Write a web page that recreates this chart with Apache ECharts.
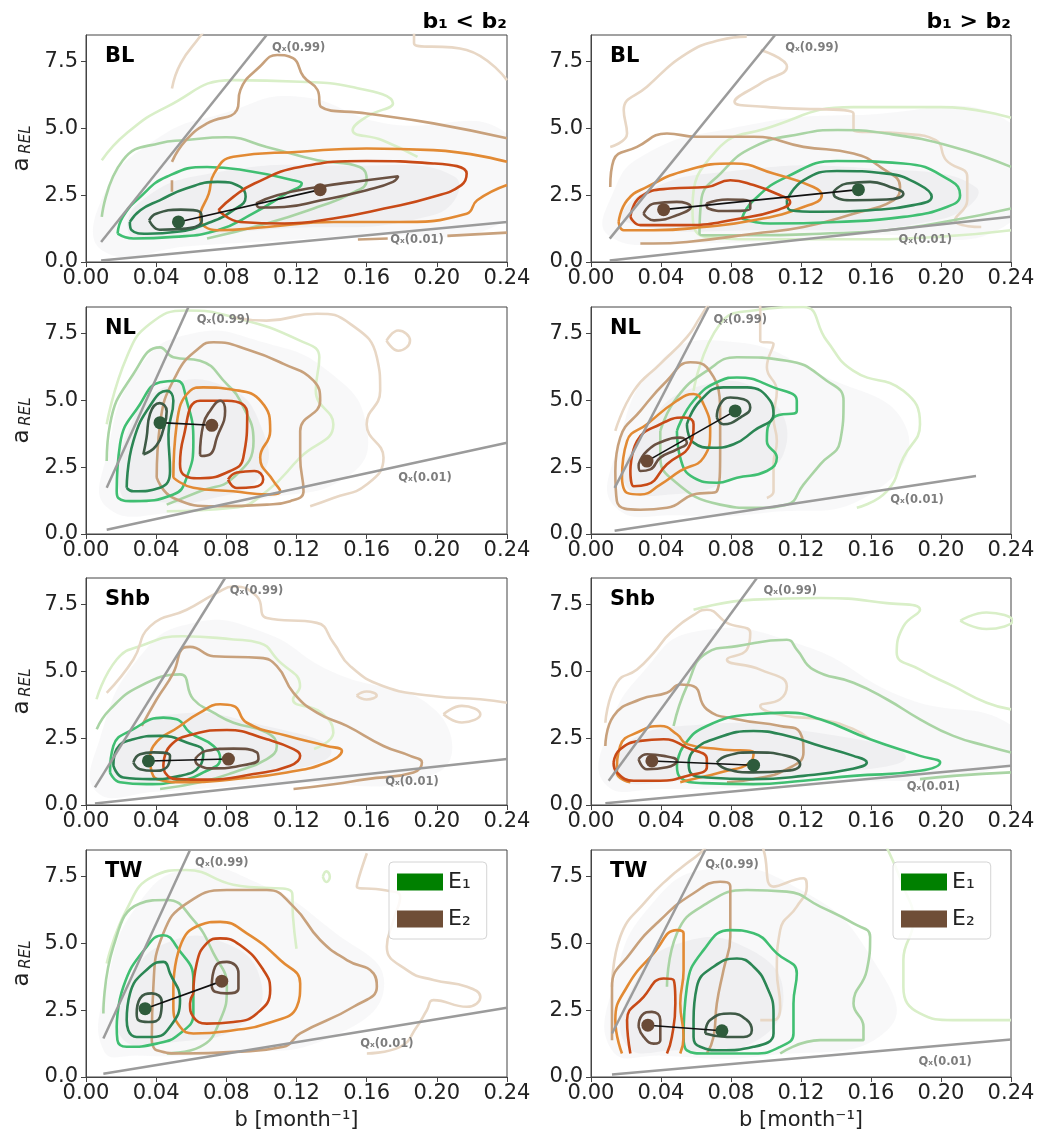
<!DOCTYPE html>
<html>
<head>
<meta charset="utf-8">
<script src="https://cdn.jsdelivr.net/npm/echarts@6/dist/echarts.min.js"></script>
<style>
  html, body { margin: 0; padding: 0; background: #fff; }
  #chart { width: 1043px; height: 1140px; }
</style>
</head>
<body>
<div id="chart"></div>
<script>
const FONT = 'DejaVu Sans';

// ticks and text
const xTicks = [0, 0.04, 0.08, 0.12, 0.16, 0.20, 0.24];
const yTicks = [0, 2.5, 5, 7.5];
const headers = ['b₁ < b₂', 'b₁ > b₂'];
const legendNames = ['E₁', 'E₂'];
const qLabels = ['Qₓ(0.99)', 'Qₓ(0.01)'];

// contour colours, inner level (0) -> outer level (4)
const e1Colors = ['#3e5a46', '#2b8654', '#40bf72', '#a9d4a4', '#d9efc8'];
const e2Colors = ['#6a5142', '#c84a17', '#e28a34', '#c8a17c', '#e8d7c5'];

// ---------------- BL, b1 < b2 ----------------
const BL_L_E1 = [
  [0, [[0.036,1.56],[0.040,1.81],[0.054,1.96],[0.065,1.88],[0.066,1.56],[0.057,1.25],[0.042,1.21],[0.036,1.56]]],
  [1, [[0.025,1.5],[0.031,1.94],[0.042,2.31],[0.057,2.75],[0.075,3.0],[0.088,2.81],[0.091,2.44],[0.084,1.94],[0.069,1.44],[0.052,1.13],[0.035,1.06],[0.026,1.19],[0.025,1.5]]],
  [2, [[0.018,1.06],[0.021,1.69],[0.031,2.44],[0.046,3.19],[0.069,3.56],[0.095,3.38],[0.118,3.06],[0.123,2.94],[0.114,2.56],[0.095,1.81],[0.075,1.19],[0.050,0.94],[0.027,0.88],[0.018,1.06]]],
  [3, [[0.069,0.88],[0.103,1.44],[0.132,2.06],[0.151,2.56],[0.160,3.06],[0.156,3.56],[0.132,3.81],[0.103,4.31],[0.080,4.67],[0.056,4.56],[0.042,4.45],[0.021,3.81],[0.009,1.69]]],
  [4, [[0.009,3.81],[0.023,4.81],[0.046,5.81],[0.084,6.81],[0.122,6.75],[0.151,6.56],[0.175,5.94],[0.160,5.44],[0.152,4.94],[0.169,4.56],[0.189,3.94]]]
];
const BL_L_E2 = [
  [0, [[0.097,2.19],[0.109,2.5],[0.132,2.81],[0.160,3.06],[0.178,3.21],[0.175,3.0],[0.160,2.69],[0.134,2.31],[0.113,2.06],[0.099,2.04],[0.097,2.19]]],
  [1, [[0.0755,1.94],[0.084,2.44],[0.096,2.94],[0.122,3.56],[0.160,3.78],[0.198,3.69],[0.217,3.31],[0.214,2.88],[0.198,2.44],[0.170,2.0],[0.141,1.63],[0.113,1.44],[0.088,1.5],[0.0755,1.94]]],
  [2, [[0.24,3.75],[0.198,4.19],[0.160,4.25],[0.122,4.13],[0.084,3.94],[0.073,3.31],[0.070,2.56],[0.065,1.69],[0.075,1.19],[0.103,1.31],[0.141,1.5],[0.179,1.5],[0.217,1.81],[0.223,2.31],[0.24,2.88]]],
  [3, [[0.049,3.75],[0.057,4.56],[0.069,5.19],[0.086,5.69],[0.088,6.44],[0.099,7.31],[0.109,7.75],[0.118,7.63],[0.124,6.94],[0.132,6.44],[0.134,5.81],[0.160,5.56],[0.198,5.19],[0.24,4.63]]],
  [3, [[0.049,3.06],[0.049,2.63]]],
  [3, [[0.155,0.84],[0.172,0.88]]],
  [3, [[0.206,0.98],[0.24,1.1]]],
  [4, [[0.049,6.5],[0.054,7.44],[0.065,8.44],[0.068,8.7]]],
  [4, [[0.187,8.7],[0.187,8.19],[0.217,7.94],[0.24,6.81]]]
];
const BL_L_MEAN = [[0.0527,1.5],[0.1335,2.71]];
const BL_L_Q99 = [[0.0086,0.75],[0.103,8.5]];
const BL_L_Q01 = [[0.0086,0.06],[0.24,1.5]];
const BL_L_QLAB = [[0.106,8.0],[0.1735,0.81]];
const BL_L_HAZE = [
  [[0.01,0.4],[0.01,2.5],[0.04,4.6],[0.08,5.6],[0.12,6.2],[0.17,5.2],[0.24,4.8],[0.24,1.6],[0.15,1.0],[0.06,0.6]],
  [[0.025,1.0],[0.03,2.2],[0.07,3.3],[0.15,3.6],[0.21,3.2],[0.2,1.8],[0.1,1.2],[0.04,0.9]]
];

// ---------------- BL, b1 > b2 ----------------
const BL_R_E1 = [
  [0, [[0.1386,2.63],[0.1462,2.94],[0.1595,3.0],[0.1709,2.81],[0.1785,2.56],[0.169,2.34],[0.150,2.31],[0.1395,2.44],[0.1386,2.63]]],
  [1, [[0.1119,2.31],[0.1214,3.06],[0.1405,3.41],[0.169,3.31],[0.188,2.88],[0.1947,2.44],[0.1842,2.13],[0.1595,1.94],[0.1309,1.88],[0.1138,1.94],[0.1119,2.31]]],
  [2, [[0.0862,1.63],[0.0929,2.31],[0.1119,3.19],[0.1405,3.78],[0.1785,3.69],[0.2052,3.06],[0.2109,2.5],[0.2033,2.06],[0.1785,1.69],[0.1405,1.5],[0.1024,1.44],[0.0862,1.63]]],
  [3, [[0.24,2.0],[0.207,1.56],[0.169,1.19],[0.131,1.06],[0.093,1.0],[0.066,1.0],[0.062,1.06],[0.063,2.31],[0.074,3.31],[0.093,4.31],[0.121,4.81],[0.141,4.94],[0.169,4.81],[0.207,4.31],[0.24,3.56]]],
  [4, [[0.24,1.19],[0.20,0.95],[0.15,0.85],[0.10,0.85],[0.065,0.95],[0.058,2.0],[0.072,4.2],[0.10,5.0],[0.15,5.8],[0.20,5.8],[0.24,5.4]]]
];
const BL_R_E2 = [
  [0, [[0.030,1.81],[0.036,2.19],[0.049,2.25],[0.057,2.06],[0.049,1.75],[0.036,1.56],[0.030,1.81]]],
  [0, [[0.066,2.19],[0.078,2.34],[0.091,2.25],[0.091,2.0],[0.078,1.91],[0.067,2.0],[0.066,2.19]]],
  [1, [[0.0225,1.69],[0.0282,2.44],[0.0453,2.75],[0.0662,2.81],[0.0796,3.06],[0.0929,2.88],[0.108,2.5],[0.1138,2.25],[0.1062,1.94],[0.0853,1.63],[0.0548,1.38],[0.0282,1.38],[0.0225,1.69]]],
  [2, [[0.0158,1.5],[0.0206,2.31],[0.032,2.81],[0.0548,3.44],[0.0815,3.69],[0.1043,3.31],[0.1271,2.81],[0.1319,2.5],[0.1214,2.06],[0.0929,1.56],[0.0643,1.31],[0.0358,1.19],[0.0187,1.19],[0.0158,1.5]]],
  [3, [[0.011,2.81],[0.0129,3.81],[0.0263,4.31],[0.0434,4.81],[0.0605,4.69],[0.0929,4.69],[0.1214,4.31],[0.150,4.06],[0.1652,3.56],[0.1766,2.81],[0.1728,2.31],[0.150,1.81],[0.1214,1.31],[0.0929,1.06],[0.0548,0.75],[0.0358,0.69],[0.0282,0.69]]],
  [4, [[0.011,4.31],[0.0206,4.81],[0.0187,5.69],[0.032,6.56],[0.0548,7.81],[0.0738,8.31],[0.089,8.44]]],
  [4, [[0.097,7.94],[0.112,7.31],[0.097,6.69],[0.082,6.0],[0.10,5.81],[0.15,5.56],[0.15,4.94],[0.178,4.81],[0.197,4.56],[0.203,3.81],[0.215,3.19],[0.215,2.31],[0.208,1.56],[0.223,1.31]]]
];
const BL_R_MEAN = [[0.1528,2.71],[0.0415,1.96]];
const BL_R_Q99 = [[0.0107,0.875],[0.1052,8.5]];
const BL_R_Q01 = [[0.0107,0.06],[0.24,1.69]];
const BL_R_QLAB = [[0.111,8.0],[0.1757,0.81]];
const BL_R_HAZE = [
  [[0.01,1.0],[0.012,2.5],[0.03,4.0],[0.08,5.0],[0.15,5.5],[0.24,5.2],[0.24,1.5],[0.15,1.0],[0.05,0.7]],
  [[0.02,1.5],[0.03,2.6],[0.08,3.4],[0.16,3.5],[0.22,2.8],[0.2,1.6],[0.1,1.2]]
];

// ---------------- NL, b1 < b2 ----------------
const NL_L_E1 = [
  [0, [[0.0327,2.98],[0.0345,3.6],[0.0365,4.5],[0.042,4.9],[0.046,4.6],[0.044,3.9],[0.040,3.3],[0.0327,2.98]]],
  [1, [[0.0232,1.73],[0.027,3.48],[0.0384,4.99],[0.046,5.36],[0.0498,4.99],[0.047,3.73],[0.0479,2.36],[0.0422,1.73],[0.027,1.6],[0.0232,1.73]]],
  [2, [[0.0175,1.6],[0.0194,3.36],[0.0308,4.86],[0.0422,5.68],[0.0517,5.74],[0.0574,4.99],[0.0612,3.48],[0.0574,2.11],[0.0498,1.48],[0.027,1.23],[0.0184,1.35],[0.0175,1.6]]],
  [3, [[0.0118,2.73],[0.0137,4.11],[0.027,5.99],[0.0422,6.99],[0.0498,6.62],[0.065,6.49],[0.0803,5.61],[0.0879,4.99],[0.0955,3.48],[0.084,2.11],[0.065,1.6],[0.046,1.10]]],
  [4, [[0.0118,4.11],[0.0232,6.62],[0.0365,7.87],[0.0574,8.37],[0.084,8.12],[0.122,7.24],[0.133,6.62],[0.131,5.36],[0.141,4.11],[0.122,2.86],[0.103,1.6],[0.084,0.98],[0.046,0.85]]]
];
const NL_L_E2 = [
  [0, [[0.065,2.98],[0.0669,4.11],[0.0707,4.61],[0.0765,4.99],[0.0793,4.61],[0.0746,3.61],[0.0707,2.98],[0.066,2.92],[0.065,2.98]]],
  [1, [[0.0536,2.62],[0.0555,3.6],[0.065,4.99],[0.0804,4.99],[0.0919,4.5],[0.0896,2.84],[0.0822,2.36],[0.065,2.09],[0.0553,2.24],[0.0536,2.62]]],
  [1, [[0.081,2.04],[0.086,2.3],[0.096,2.36],[0.101,2.04],[0.096,1.76],[0.086,1.72],[0.081,2.04]]],
  [2, [[0.0498,2.11],[0.0517,4.11],[0.0593,5.36],[0.0669,5.49],[0.084,5.4],[0.1,4.95],[0.105,3.86],[0.0993,2.86],[0.1069,1.98],[0.1107,1.6],[0.1031,1.48],[0.084,1.6],[0.0612,1.73],[0.0498,2.11]]],
  [3, [[0.0403,2.11],[0.0422,4.11],[0.0517,5.99],[0.065,6.99],[0.0727,7.18],[0.0936,6.87],[0.1126,6.37],[0.1297,5.74],[0.1335,4.99],[0.1221,3.86],[0.1221,2.86],[0.124,1.6],[0.1164,1.23],[0.1031,1.10],[0.0746,1.04],[0.0498,1.35],[0.0403,2.11]]],
  [4, [[0.084,8.12],[0.103,7.99],[0.1316,8.25],[0.1506,7.87],[0.1658,6.62],[0.1677,5.36],[0.16,4.11],[0.1696,2.86],[0.16,1.85],[0.141,1.35],[0.1278,1.04]]],
  [4, [[0.1713,7.24],[0.178,7.62],[0.1847,7.24],[0.178,6.86],[0.1713,7.24]]]
];
const NL_L_MEAN = [[0.0422,4.17],[0.0717,4.07]];
const NL_L_Q99 = [[0.0118,1.73],[0.0584,8.5]];
const NL_L_Q01 = [[0.0118,0.16],[0.24,3.42]];
const NL_L_QLAB = [[0.0631,8.0],[0.178,2.1]];
const NL_L_HAZE = [
  [[0.012,1.0],[0.012,3.0],[0.03,6.2],[0.06,7.5],[0.1,7.2],[0.14,6],[0.16,4],[0.15,2.2],[0.1,1.3],[0.05,0.8]],
  [[0.02,1.5],[0.025,4],[0.045,5.5],[0.08,5.5],[0.1,4],[0.1,2.2],[0.07,1.3],[0.04,1.2]]
];

// ---------------- NL, b1 > b2 ----------------
const NL_R_E1 = [
  [0, [[0.0719,4.36],[0.0738,4.86],[0.0796,5.11],[0.0872,5.05],[0.091,4.74],[0.0853,4.36],[0.0757,4.11],[0.0719,4.36]]],
  [1, [[0.0548,4.11],[0.0624,4.99],[0.0757,5.49],[0.0891,5.49],[0.1024,4.99],[0.1043,4.49],[0.0929,3.86],[0.0815,3.36],[0.07,3.23],[0.0586,3.42],[0.0548,4.11]]],
  [2, [[0.0491,3.86],[0.0586,4.99],[0.0738,5.74],[0.0834,5.86],[0.1043,5.49],[0.1176,4.99],[0.1176,4.61],[0.1043,4.36],[0.1005,3.48],[0.1062,2.86],[0.1005,2.36],[0.0834,2.11],[0.0719,1.92],[0.0586,2.11],[0.051,2.86],[0.0491,3.86]]],
  [3, [[0.0396,3.86],[0.0491,5.11],[0.0662,6.11],[0.0834,6.62],[0.1119,6.49],[0.1347,5.74],[0.1443,4.99],[0.1424,3.48],[0.131,2.61],[0.1214,1.85],[0.1119,1.10],[0.0929,0.98],[0.0738,1.10],[0.0453,2.11],[0.0396,2.98],[0.0396,3.86]]],
  [4, [[0.0586,5.36],[0.0738,7.87],[0.0929,8.37],[0.1214,8.5],[0.1347,7.24],[0.15,6.11],[0.1785,5.36],[0.188,4.11],[0.1785,2.86],[0.169,1.6],[0.1519,0.98]]]
];
const NL_R_E2 = [
  [0, [[0.0272,2.61],[0.032,3.11],[0.0415,3.48],[0.051,3.61],[0.0548,3.42],[0.0491,3.17],[0.0396,2.86],[0.0339,2.42],[0.0282,2.36],[0.0272,2.61]]],
  [1, [[0.0225,2.36],[0.0263,3.48],[0.0396,4.11],[0.0529,4.36],[0.0586,4.11],[0.0567,3.36],[0.0434,2.61],[0.032,1.85],[0.0244,1.79],[0.0225,2.36]]],
  [2, [[0.0177,2.11],[0.0206,3.48],[0.032,4.11],[0.0491,4.99],[0.0586,5.24],[0.0643,4.86],[0.0681,3.86],[0.0643,2.86],[0.051,2.36],[0.0396,1.85],[0.0282,1.48],[0.0206,1.54],[0.0177,2.11]]],
  [3, [[0.0139,2.36],[0.0167,3.61],[0.0282,4.61],[0.0434,5.74],[0.0567,6.43],[0.0662,6.24],[0.0738,4.61],[0.0738,3.11],[0.0719,1.6],[0.0586,1.48],[0.0434,0.98],[0.0282,0.91],[0.0148,1.23],[0.0139,2.36]]],
  [4, [[0.0139,3.86],[0.0244,5.36],[0.0396,6.37],[0.0548,7.37],[0.0624,8.12],[0.0662,8.5],[0.075,9.2],[0.095,9.2],[0.0967,8.37],[0.0967,7.24],[0.1043,7.12],[0.1005,6.24],[0.1062,5.36],[0.1043,4.36],[0.1062,3.48],[0.1043,2.61],[0.1043,1.6],[0.1005,1.35]]]
];
const NL_R_MEAN = [[0.0824,4.61],[0.032,2.73]];
const NL_R_Q99 = [[0.0135,1.73],[0.0672,8.5]];
const NL_R_Q01 = [[0.0135,0.125],[0.22,2.17]];
const NL_R_QLAB = [[0.070,8.0],[0.171,1.29]];
const NL_R_HAZE = [
  [[0.014,1.0],[0.014,3.0],[0.04,6.5],[0.08,7.2],[0.13,6.0],[0.18,4],[0.16,1.5],[0.1,0.8],[0.05,0.7]],
  [[0.02,1.8],[0.03,3.8],[0.06,5.5],[0.1,5.2],[0.11,3],[0.08,2],[0.05,1.5]]
];

// ---------------- Shb, b1 < b2 ----------------
const SHB_L_E1 = [
  [0, [[0.027,1.59],[0.0308,1.9],[0.0384,1.97],[0.0479,1.84],[0.046,1.41],[0.0384,1.28],[0.0308,1.34],[0.027,1.59]]],
  [1, [[0.0156,1.47],[0.0175,2.09],[0.027,2.46],[0.0422,2.59],[0.0574,2.34],[0.0669,1.97],[0.065,1.47],[0.0536,1.09],[0.0365,0.97],[0.0213,1.03],[0.0156,1.47]]],
  [2, [[0.0137,1.22],[0.0156,2.21],[0.027,2.84],[0.0441,3.27],[0.0517,3.21],[0.0593,2.71],[0.0727,2.21],[0.0765,1.72],[0.0669,1.22],[0.0536,0.91],[0.0346,0.78],[0.0194,0.85],[0.0137,1.22]]],
  [3, [[0.0061,2.84],[0.0137,3.58],[0.0308,4.45],[0.0536,4.89],[0.0612,3.96],[0.0727,3.46],[0.0841,3.08],[0.1031,2.71],[0.1088,2.21],[0.1031,1.72],[0.0841,1.22],[0.065,0.85],[0.0422,0.6]]],
  [4, [[0.006,3.96],[0.0175,5.45],[0.031,5.95],[0.055,6.32],[0.084,6.2],[0.099,6.07],[0.109,5.45],[0.122,4.45],[0.118,3.96],[0.134,3.46],[0.141,2.71],[0.13,2.1]]]
];
const SHB_L_E2 = [
  [0, [[0.0622,1.72],[0.0688,2.03],[0.0841,2.11],[0.0974,1.97],[0.0983,1.72],[0.0878,1.47],[0.0727,1.37],[0.0641,1.49],[0.0622,1.72]]],
  [1, [[0.0441,1.47],[0.0479,2.21],[0.0612,2.65],[0.0803,2.81],[0.1031,2.46],[0.1183,2.09],[0.1221,1.84],[0.1164,1.47],[0.0955,1.16],[0.0688,0.95],[0.0517,0.97],[0.045,1.22],[0.0441,1.47]]],
  [2, [[0.0365,1.72],[0.0384,2.21],[0.0536,2.96],[0.065,3.46],[0.0765,3.77],[0.0841,3.71],[0.0917,3.08],[0.1145,2.59],[0.1373,2.21],[0.1459,2.03],[0.1373,1.59],[0.1145,1.22],[0.0841,0.97],[0.0574,0.85],[0.0403,0.97],[0.0365,1.72]]],
  [3, [[0.0318,2.96],[0.0403,3.96],[0.0498,4.95],[0.0555,5.88],[0.0593,5.92],[0.0727,5.57],[0.0993,5.51],[0.1088,5.2],[0.1183,4.2],[0.1316,3.46],[0.1487,2.96],[0.1696,2.21],[0.1848,1.84],[0.1915,1.59],[0.1867,1.22],[0.1601,0.97],[0.1411,0.78],[0.1183,0.6]]],
  [4, [[0.0118,4.2],[0.027,5.45],[0.0365,6.69],[0.0574,7.31],[0.0746,7.94],[0.0841,8.18],[0.0974,7.81],[0.1031,7.0],[0.1316,6.82],[0.1411,6.07],[0.1506,5.2],[0.1696,4.45],[0.1981,4.08],[0.2248,3.96],[0.24,3.83]]],
  [4, [[0.2038,3.4],[0.2143,3.71],[0.2248,3.4],[0.2143,3.09],[0.2038,3.4]]],
  [4, [[0.1543,4.1],[0.16,4.25],[0.1657,4.1],[0.16,3.95],[0.1543,4.1]]]
];
const SHB_L_MEAN = [[0.0356,1.65],[0.0812,1.72]];
const SHB_L_Q99 = [[0.0051,0.66],[0.0793,8.5]];
const SHB_L_Q01 = [[0.0051,0.06],[0.24,1.72]];
const SHB_L_QLAB = [[0.082,8.0],[0.1706,0.85]];
const SHB_L_HAZE = [
  [[0.006,0.5],[0.008,2.5],[0.03,5.5],[0.06,6.8],[0.1,6.5],[0.14,5],[0.2,3.5],[0.2,1.2],[0.1,0.8],[0.04,0.5]],
  [[0.015,1.0],[0.02,2.4],[0.05,3.4],[0.1,3.0],[0.14,2.0],[0.1,1.1],[0.05,0.9]]
];

// ---------------- Shb, b1 > b2 ----------------
const SHB_R_E1 = [
  [0, [[0.0719,1.59],[0.0777,1.84],[0.0929,1.97],[0.1119,1.84],[0.1195,1.53],[0.1119,1.28],[0.0929,1.22],[0.0777,1.34],[0.0719,1.59]]],
  [1, [[0.0558,1.59],[0.0586,2.03],[0.07,2.46],[0.0929,2.77],[0.1119,2.59],[0.131,2.21],[0.15,1.84],[0.1576,1.59],[0.1481,1.34],[0.1214,1.09],[0.0929,0.97],[0.0662,1.03],[0.0567,1.22],[0.0558,1.59]]],
  [2, [[0.0491,1.47],[0.0529,2.21],[0.0662,2.96],[0.0929,3.40],[0.1119,3.46],[0.131,3.21],[0.1595,2.46],[0.188,1.84],[0.1995,1.59],[0.188,1.28],[0.15,1.09],[0.1214,0.91],[0.0929,0.78],[0.0643,0.82],[0.051,1.03],[0.0491,1.47]]],
  [3, [[0.0472,2.96],[0.0548,4.45],[0.0662,5.70],[0.0834,5.95],[0.1119,6.19],[0.1176,5.82],[0.1271,5.07],[0.15,4.58],[0.169,3.96],[0.188,3.21],[0.207,2.59],[0.2261,2.21],[0.24,1.97]]],
  [3, [[0.24,1.22],[0.207,1.09],[0.188,0.97]]],
  [4, [[0.0586,7.31],[0.0929,7.69],[0.131,7.75],[0.169,7.56],[0.188,7.31],[0.1785,6.69],[0.1747,5.7],[0.188,5.07],[0.207,4.45],[0.2261,3.83],[0.24,3.58]]],
  [4, [[0.211,6.9],[0.226,7.21],[0.241,6.9],[0.226,6.59],[0.211,6.9]]]
];
const SHB_R_E2 = [
  [0, [[0.0272,1.72],[0.032,1.90],[0.0415,1.84],[0.0491,1.65],[0.0434,1.41],[0.032,1.34],[0.0272,1.72]]],
  [1, [[0.0129,1.59],[0.0167,2.09],[0.0282,2.4],[0.0415,2.46],[0.0548,2.15],[0.0662,1.72],[0.0662,1.41],[0.0548,1.09],[0.0396,0.91],[0.0244,0.91],[0.0148,1.22],[0.0129,1.59]]],
  [2, [[0.0225,0.85],[0.0148,1.22],[0.0167,2.21],[0.0282,2.77],[0.0396,2.96],[0.0491,2.65],[0.0548,2.28],[0.0738,2.09],[0.0929,1.97],[0.091,1.59],[0.0738,1.22],[0.0586,0.97],[0.051,0.85]]],
  [3, [[0.0082,2.21],[0.0129,3.33],[0.0282,3.96],[0.0434,4.2],[0.051,4.51],[0.0586,4.45],[0.0662,3.58],[0.0834,3.21],[0.1081,2.96],[0.1195,2.71],[0.1214,1.97],[0.1119,1.34],[0.0929,0.97],[0.0777,0.85]]],
  [4, [[0.0082,3.08],[0.0148,4.58],[0.0263,5.07],[0.0358,5.70],[0.0453,6.44],[0.0605,7.19],[0.0662,7.31],[0.0777,6.82],[0.091,6.44],[0.0891,5.82],[0.0777,5.45],[0.0967,5.07],[0.1119,4.45],[0.1081,3.96],[0.0967,3.71],[0.1119,3.33],[0.131,3.21],[0.15,2.84],[0.1595,2.46]]]
];
const SHB_R_MEAN = [[0.0929,1.49],[0.0348,1.65]];
const SHB_R_Q99 = [[0.0101,0.91],[0.0948,8.5]];
const SHB_R_Q01 = [[0.0082,0.07],[0.24,1.47]];
const SHB_R_QLAB = [[0.0986,8.0],[0.1804,0.66]];
const SHB_R_HAZE = [
  [[0.008,0.8],[0.01,2.8],[0.03,5],[0.06,6.5],[0.12,6],[0.18,4],[0.24,3],[0.24,1.5],[0.12,0.8],[0.04,0.6]],
  [[0.015,1.0],[0.02,2.3],[0.06,3.0],[0.12,2.8],[0.18,1.8],[0.12,1.1],[0.05,0.9]]
];

// ---------------- TW, b1 < b2 ----------------
const TW_L_E1 = [
  [0, [[0.0289,2.38],[0.0308,2.94],[0.0375,3.13],[0.0432,2.81],[0.0422,2.25],[0.0356,2.06],[0.0299,2.13],[0.0289,2.38]]],
  [1, [[0.0232,2.13],[0.0251,3.13],[0.0365,4.13],[0.0441,4.31],[0.0479,3.88],[0.0536,2.88],[0.0479,1.88],[0.0384,1.5],[0.0289,1.5],[0.0241,1.75],[0.0232,2.13]]],
  [2, [[0.0175,1.88],[0.0213,3.38],[0.0346,4.88],[0.0441,5.31],[0.0517,4.88],[0.0612,3.63],[0.0612,2.38],[0.0536,1.63],[0.0403,1.25],[0.0232,1.13],[0.0179,1.38],[0.0175,1.88]]],
  [3, [[0.0099,2.38],[0.0156,4.88],[0.0308,6.5],[0.046,6.63],[0.0612,5.88],[0.0727,4.63],[0.0803,3.38],[0.0765,2.13],[0.065,1.13],[0.046,0.88]]],
  [4, [[0.0118,4.25],[0.023,6.25],[0.038,7.5],[0.057,7.75],[0.084,7.2],[0.1175,6.9],[0.118,6.0],[0.12,4.8]]],
  [4, [[0.135,7.5],[0.137,7.7],[0.139,7.5],[0.137,7.3],[0.135,7.5]]]
];
const TW_L_E2 = [
  [0, [[0.0717,3.38],[0.0736,4.13],[0.0803,4.31],[0.0869,3.88],[0.0869,3.31],[0.0803,3.13],[0.0736,3.19],[0.0717,3.38]]],
  [1, [[0.0612,3.13],[0.0631,4.25],[0.0688,5.0],[0.0765,5.19],[0.0878,4.94],[0.1012,4.0],[0.105,3.25],[0.0974,2.38],[0.0841,2.06],[0.0688,2.0],[0.0612,2.25],[0.0593,2.75],[0.0612,3.13]]],
  [2, [[0.0498,3.38],[0.0536,4.88],[0.065,5.69],[0.0765,5.81],[0.0917,5.38],[0.1107,4.38],[0.1221,3.5],[0.1202,2.63],[0.1031,2.0],[0.0841,1.75],[0.0612,1.63],[0.0536,1.88],[0.0498,2.63],[0.0498,3.38]]],
  [3, [[0.0375,1.38],[0.0384,3.38],[0.0441,5.38],[0.0574,6.5],[0.0803,7.0],[0.1031,7.0],[0.1183,6.38],[0.1335,5.13],[0.1487,4.38],[0.1639,3.88],[0.1658,3.38],[0.1525,2.63],[0.1221,1.63],[0.1126,1.13],[0.0841,0.94],[0.0555,0.88],[0.0403,1.0],[0.0375,1.38]]],
  [4, [[0.1601,8.38],[0.1544,7.13],[0.1696,7.0],[0.1791,6.75],[0.1753,5.88],[0.1715,4.88],[0.183,4.0],[0.1981,3.63],[0.2172,3.38],[0.2248,3.0],[0.2172,2.63],[0.1981,2.88],[0.1943,2.5],[0.1886,1.88],[0.1791,1.13],[0.1601,0.88]]]
];
const TW_L_MEAN = [[0.0337,2.56],[0.0774,3.59]];
const TW_L_Q99 = [[0.0099,1.44],[0.0593,8.5]];
const TW_L_Q01 = [[0.0099,0.125],[0.24,2.59]];
const TW_L_QLAB = [[0.0622,8.0],[0.1563,1.25]];
const TW_L_HAZE = [
  [[0.01,1.0],[0.012,3.5],[0.03,6.5],[0.06,7.8],[0.1,7.2],[0.14,5.5],[0.17,3.5],[0.14,1.5],[0.08,0.9],[0.03,0.8]],
  [[0.02,1.5],[0.025,3.5],[0.045,5],[0.08,5],[0.1,3.5],[0.09,2],[0.05,1.3]]
];

// ---------------- TW, b1 > b2 ----------------
const TW_R_E1 = [
  [0, [[0.0653,1.63],[0.0681,2.13],[0.0796,2.38],[0.0891,2.13],[0.0919,1.75],[0.0872,1.5],[0.0777,1.5],[0.0653,1.63]]],
  [1, [[0.0586,2.13],[0.0605,3.38],[0.07,4.13],[0.0834,4.44],[0.0929,4.13],[0.1005,3.38],[0.1043,2.38],[0.1043,1.63],[0.0929,1.13],[0.0738,1.0],[0.0624,1.13],[0.0586,1.5],[0.0586,2.13]]],
  [2, [[0.0529,1.5],[0.0548,3.38],[0.0643,4.75],[0.0796,5.5],[0.0929,5.38],[0.1062,4.63],[0.1176,3.88],[0.1157,2.75],[0.1157,1.63],[0.1081,1.13],[0.0929,0.88],[0.0662,0.88],[0.0548,1.0],[0.0529,1.5]]],
  [3, [[0.0434,3.38],[0.0491,5.38],[0.0662,6.5],[0.0891,7.0],[0.1119,6.94],[0.131,6.38],[0.15,5.75],[0.1595,5.25],[0.1576,4.0],[0.15,2.75],[0.1557,1.88],[0.1557,1.38],[0.131,1.38],[0.1081,0.88]]],
  [4, [[0.169,8.6],[0.1785,7.13],[0.1842,5.88],[0.1785,4.38],[0.1785,3.38],[0.188,2.38],[0.207,2.13],[0.24,2.13]]]
];
const TW_R_E2 = [
  [0, [[0.0272,1.88],[0.0291,2.31],[0.0348,2.44],[0.0396,2.13],[0.0396,1.38],[0.0358,1.25],[0.0301,1.5],[0.0272,1.88]]],
  [1, [[0.0225,0.88],[0.0206,2.13],[0.0301,3.0],[0.0415,3.69],[0.0472,3.63],[0.0482,2.75],[0.0462,1.5],[0.0434,0.88]]],
  [2, [[0.0177,0.88],[0.0139,2.13],[0.0206,3.38],[0.0358,4.63],[0.0491,5.5],[0.0529,5.38],[0.0529,4.0],[0.051,2.75],[0.0529,1.5],[0.051,0.88]]],
  [3, [[0.012,1.38],[0.012,3.38],[0.0225,4.63],[0.0396,5.88],[0.0586,6.88],[0.0738,7.31],[0.0796,7.13],[0.0796,5.25],[0.0757,4.0],[0.0719,2.75],[0.07,1.5],[0.0662,0.88]]],
  [4, [[0.012,3.38],[0.0167,5.25],[0.032,6.63],[0.0453,7.5],[0.0548,8.0],[0.0643,8.5],[0.07,9.0],[0.095,9.0],[0.0986,8.5],[0.1043,7.13],[0.1214,7.44],[0.1233,7.13],[0.1176,6.38],[0.1081,5.5],[0.1062,4.0],[0.1081,2.63],[0.1043,2.13],[0.0967,2.13]]]
];
const TW_R_MEAN = [[0.0748,1.73],[0.0325,1.94]];
const TW_R_Q99 = [[0.012,1.63],[0.0653,8.5]];
const TW_R_Q01 = [[0.012,0.09],[0.24,1.4]];
const TW_R_QLAB = [[0.0653,7.94],[0.1871,0.56]];
const TW_R_HAZE = [
  [[0.012,1.0],[0.013,3.5],[0.035,6.5],[0.07,7.8],[0.12,7],[0.16,4.5],[0.17,1.8],[0.1,0.8],[0.04,0.8]],
  [[0.02,1.2],[0.025,3.5],[0.05,5],[0.09,4.8],[0.11,3],[0.09,1.2],[0.05,1.0]]
];

const panels = [
  { name: 'BL',  row: 0, col: 0, e1: BL_L_E1,  e2: BL_L_E2,  mean: BL_L_MEAN,  q99: BL_L_Q99,  q01: BL_L_Q01,  qlab: BL_L_QLAB,  haze: BL_L_HAZE },
  { name: 'BL',  row: 0, col: 1, e1: BL_R_E1,  e2: BL_R_E2,  mean: BL_R_MEAN,  q99: BL_R_Q99,  q01: BL_R_Q01,  qlab: BL_R_QLAB,  haze: BL_R_HAZE },
  { name: 'NL',  row: 1, col: 0, e1: NL_L_E1,  e2: NL_L_E2,  mean: NL_L_MEAN,  q99: NL_L_Q99,  q01: NL_L_Q01,  qlab: NL_L_QLAB,  haze: NL_L_HAZE },
  { name: 'NL',  row: 1, col: 1, e1: NL_R_E1,  e2: NL_R_E2,  mean: NL_R_MEAN,  q99: NL_R_Q99,  q01: NL_R_Q01,  qlab: NL_R_QLAB,  haze: NL_R_HAZE },
  { name: 'Shb', row: 2, col: 0, e1: SHB_L_E1, e2: SHB_L_E2, mean: SHB_L_MEAN, q99: SHB_L_Q99, q01: SHB_L_Q01, qlab: SHB_L_QLAB, haze: SHB_L_HAZE },
  { name: 'Shb', row: 2, col: 1, e1: SHB_R_E1, e2: SHB_R_E2, mean: SHB_R_MEAN, q99: SHB_R_Q99, q01: SHB_R_Q01, qlab: SHB_R_QLAB, haze: SHB_R_HAZE },
  { name: 'TW',  row: 3, col: 0, e1: TW_L_E1,  e2: TW_L_E2,  mean: TW_L_MEAN,  q99: TW_L_Q99,  q01: TW_L_Q01,  qlab: TW_L_QLAB,  haze: TW_L_HAZE },
  { name: 'TW',  row: 3, col: 1, e1: TW_R_E1,  e2: TW_R_E2,  mean: TW_R_MEAN,  q99: TW_R_Q99,  q01: TW_R_Q01,  qlab: TW_R_QLAB,  haze: TW_R_HAZE }
];

// layout
const colLeft = [86, 591];
const colWidth = [421, 420];
const rowTop = [35, 307, 578, 850];
const plotH = 227;

const chart = echarts.init(document.getElementById('chart'), null, { renderer: 'canvas' });

let grids = [], xAxes = [], yAxes = [], series = [], titles = [], legends = [];

function hazeSeries(pts, g, fill) {
  return {
    type: 'custom', xAxisIndex: g, yAxisIndex: g, silent: true, clip: true, z: 1,
    data: pts,
    renderItem: (params, api) => {
      if (params.dataIndex !== 0) return null;
      return {
        type: 'polygon',
        shape: { points: pts.map(p => api.coord(p)), smooth: 0.5 },
        style: { fill: fill }
      };
    }
  };
}

panels.forEach((p, g) => {
  const left = colLeft[p.col], top = rowTop[p.row], w = colWidth[p.col];
  grids.push({ left: left, top: top, width: w, height: plotH, show: true, borderColor: '#444', borderWidth: 1, containLabel: false });

  xAxes.push({
    type: 'value', gridIndex: g, min: 0, max: 0.24,
    axisLine: { show: true, onZero: false, lineStyle: { color: '#444', width: 1 } },
    axisTick: { show: true, length: 5, customValues: xTicks, lineStyle: { color: '#444' } },
    axisLabel: { fontSize: 21, fontFamily: FONT, color: '#222', margin: 6, customValues: xTicks, formatter: v => v.toFixed(2) },
    splitLine: { show: false },
    name: p.row === 3 ? 'b [month⁻¹]' : '',
    nameLocation: 'middle', nameGap: 33,
    nameTextStyle: { fontSize: 21, fontFamily: FONT, color: '#222' }
  });
  yAxes.push({
    type: 'value', gridIndex: g, min: 0, max: 8.5,
    axisLine: { show: true, onZero: false, lineStyle: { color: '#444', width: 1 } },
    axisTick: { show: true, length: 5, customValues: yTicks, lineStyle: { color: '#444' } },
    axisLabel: { fontSize: 21, fontFamily: FONT, color: '#222', margin: 8, customValues: yTicks, formatter: v => v.toFixed(1) },
    splitLine: { show: false },
    name: p.col === 0 ? '{a|a} {r|REL}' : '',
    nameLocation: 'middle', nameGap: 52, nameRotate: 90,
    nameTextStyle: {
      fontFamily: FONT, color: '#222',
      rich: {
        a: { fontSize: 23, fontFamily: FONT, color: '#222' },
        r: { fontSize: 15, fontFamily: FONT, fontStyle: 'italic', color: '#222', verticalAlign: 'bottom', padding: [6, 0, 0, 0] }
      }
    }
  });

  // point cloud haze
  p.haze.forEach((h, i) => series.push(hazeSeries(h, g, i === 0 ? 'rgba(150,150,165,0.065)' : 'rgba(150,150,165,0.085)')));

  // contours, outer levels first
  const all = [];
  p.e1.forEach(([lvl, pts]) => all.push({ lvl, pts, color: e1Colors[lvl] }));
  p.e2.forEach(([lvl, pts]) => all.push({ lvl, pts, color: e2Colors[lvl] }));
  all.sort((a, b) => b.lvl - a.lvl);
  all.forEach(c => series.push({
    type: 'line', xAxisIndex: g, yAxisIndex: g, data: c.pts, smooth: 0.5,
    showSymbol: false, symbol: 'none', silent: true, clip: true, z: 2,
    lineStyle: { color: c.color, width: 2.6 }
  }));

  // quantile lines
  [p.q99, p.q01].forEach(q => series.push({
    type: 'line', xAxisIndex: g, yAxisIndex: g, data: q, symbol: 'none', silent: true, clip: true, z: 3,
    lineStyle: { color: '#9b9b9b', width: 2.5 }
  }));
  series.push({
    type: 'custom', xAxisIndex: g, yAxisIndex: g, silent: true, z: 3, data: p.qlab,
    renderItem: (params, api) => {
      const c = api.coord([api.value(0), api.value(1)]);
      return { type: 'text', x: c[0], y: c[1],
        style: { text: qLabels[params.dataIndex], fill: '#7d7d7d', font: 'bold 11.5px "DejaVu Sans"', verticalAlign: 'middle', align: 'left' } };
    }
  });

  // mean link and means
  series.push({
    type: 'line', xAxisIndex: g, yAxisIndex: g, data: p.mean, symbol: 'none', silent: true, z: 4,
    lineStyle: { color: '#111', width: 1.6 }
  });
  series.push({ type: 'scatter', name: legendNames[0], xAxisIndex: g, yAxisIndex: g, data: [p.mean[0]], symbolSize: 13, z: 5, itemStyle: { color: '#2e5b3b', opacity: 1 } });
  series.push({ type: 'scatter', name: legendNames[1], xAxisIndex: g, yAxisIndex: g, data: [p.mean[1]], symbolSize: 13, z: 5, itemStyle: { color: '#6a4a36', opacity: 1 } });

  titles.push({ text: p.name, left: left + 19, top: top + 11, padding: 0,
    textStyle: { fontSize: 21, fontWeight: 'bold', fontFamily: FONT, color: '#000' } });

  if (p.row === 3) {
    legends.push({
      left: left + w - 118, top: top + 12, orient: 'vertical', selectedMode: false,
      itemWidth: 46, itemHeight: 17, itemGap: 15, padding: [9, 16, 9, 8],
      borderColor: '#d4d4d4', borderWidth: 1, borderRadius: 4, backgroundColor: 'rgba(255,255,255,0.85)',
      textStyle: { fontSize: 22, fontFamily: FONT, color: '#222' },
      data: [
        { name: legendNames[0], icon: 'rect', itemStyle: { color: '#008000', opacity: 1 } },
        { name: legendNames[1], icon: 'rect', itemStyle: { color: '#6f4e37', opacity: 1 } }
      ]
    });
  }
});

headers.forEach((h, i) => {
  titles.push({ text: h, right: 1043 - (colLeft[i] + colWidth[i]), top: 11, padding: 0,
    textStyle: { fontSize: 22, fontWeight: 'bold', fontFamily: FONT, color: '#000' } });
});

chart.setOption({
  animation: false,
  backgroundColor: '#fff',
  textStyle: { fontFamily: FONT },
  title: titles,
  legend: legends,
  grid: grids,
  xAxis: xAxes,
  yAxis: yAxes,
  series: series
});
</script>
</body>
</html>
